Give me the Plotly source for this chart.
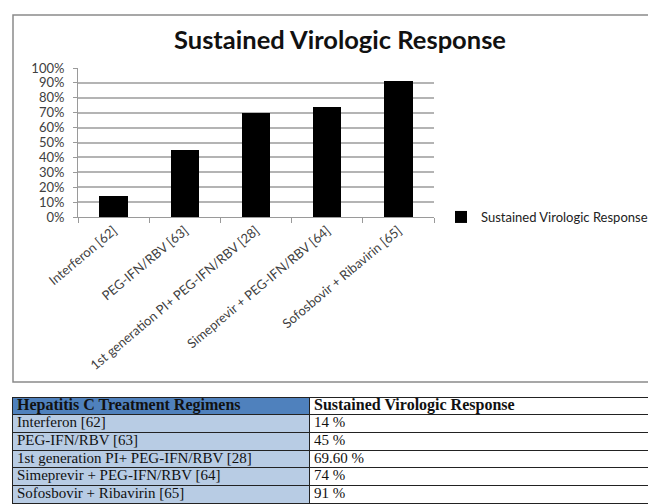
import plotly.graph_objects as go

categories = ["Interferon [62]", "PEG-IFN/RBV [63]", "1st generation PI+ PEG-IFN/RBV [28]",
              "Simeprevir + PEG-IFN/RBV [64]", "Sofosbovir + Ribavirin [65]"]
svr_values = [14, 45, 69.6, 74, 91]
series_name = "Sustained Virologic Response"
chart_title = "Sustained Virologic Response"
table_header = ["Hepatitis C Treatment Regimens", "Sustained Virologic Response"]
table_svr_labels = ["14 %", "45 %", "69.60 %", "74 %", "91 %"]
y_tick_vals = [0, 10, 20, 30, 40, 50, 60, 70, 80, 90, 100]
y_tick_text = [f"{v}%" for v in y_tick_vals]

# page body has an 8px default margin; size the figure to fit the window
OFF = 8
W, H = 656 - OFF, 504 - OFF
def px(x): return (x - OFF) / W
def py(y): return 1 - (y - OFF) / H

# table layout (column widths in px)
col_w = [297, 360]
cell_pad = 5
table_rows = ["hdr"] + [f"r{i}" for i in range(len(categories))]
col1_fill = ["#4f81bd"] + ["#b8cce4"] * len(categories)
col2_fill = ["white"] * (len(categories) + 1)
hdr_style = "<b><span style='font-size:16px'>{}</span></b>"
col1_text = [hdr_style.format(table_header[0])] + categories
col2_text = [hdr_style.format(table_header[1])] + table_svr_labels

fig = go.Figure()
fig.add_trace(go.Bar(
    x=categories, y=svr_values, name=series_name,
    marker=dict(color="black", line=dict(width=0)),
    showlegend=True, xaxis="x", yaxis="y",
))

# table drawn as stacked horizontal bars + text on its own axes
fig.add_trace(go.Bar(
    y=table_rows, x=[col_w[0]] * len(table_rows), orientation="h",
    marker=dict(color=col1_fill, line=dict(color="#222222", width=1)),
    width=1, showlegend=False, hoverinfo="skip", xaxis="x2", yaxis="y2",
))
fig.add_trace(go.Bar(
    y=table_rows, x=[col_w[1]] * len(table_rows), orientation="h",
    marker=dict(color=col2_fill, line=dict(color="#222222", width=1)),
    width=1, showlegend=False, hoverinfo="skip", xaxis="x2", yaxis="y2",
))
fig.add_trace(go.Scatter(
    y=table_rows, x=[cell_pad] * len(table_rows), mode="text", text=col1_text,
    textposition="middle right", showlegend=False, hoverinfo="skip",
    textfont=dict(family="Liberation Serif", size=15, color="#111111"),
    xaxis="x2", yaxis="y2", cliponaxis=False,
))
fig.add_trace(go.Scatter(
    y=table_rows, x=[col_w[0] + cell_pad] * len(table_rows), mode="text", text=col2_text,
    textposition="middle right", showlegend=False, hoverinfo="skip",
    textfont=dict(family="Liberation Serif", size=15, color="#111111"),
    xaxis="x2", yaxis="y2", cliponaxis=False,
))

fig.update_layout(
    width=W, height=H,
    margin=dict(l=0, r=0, t=0, b=0, autoexpand=False),
    paper_bgcolor="white", plot_bgcolor="white",
    font=dict(family="Lato", color="#404040", size=13),
    title=dict(text=f"<b>{chart_title}</b>", x=px(340), xanchor="center",
               y=py(40), yanchor="middle",
               font=dict(family="Lato", size=25.5, color="#111111")),
    bargap=0.6, barmode="stack",
    xaxis=dict(domain=[px(78), px(434)], tickangle=-40, showgrid=False,
               showline=True, linecolor="#9a9a9a", linewidth=1,
               ticks="outside", tickson="boundaries", ticklen=5, tickcolor="#9a9a9a",
               automargin=False,
               tickfont=dict(family="Lato", size=13, color="#404040")),
    yaxis=dict(domain=[py(217), py(68)], range=[0, 100], tickvals=y_tick_vals,
               ticktext=y_tick_text, showgrid=True, gridcolor="#b4b4b4", gridwidth=1.5,
               showline=True, linecolor="#9a9a9a", linewidth=1,
               ticks="outside", ticklen=4, tickcolor="#9a9a9a",
               zeroline=False, automargin=False, ticklabelstandoff=6,
               tickfont=dict(family="Lato", size=13, color="#404040")),
    xaxis2=dict(domain=[px(12), 1.0], range=[0, 656 - 12], visible=False,
                fixedrange=True),
    yaxis2=dict(domain=[0, py(397)], range=[5.55, -0.5], visible=False,
                fixedrange=True, type="category"),
    legend=dict(x=px(441), y=py(217), xanchor="left", yanchor="middle",
                font=dict(family="Lato", size=13, color="#222222"),
                itemwidth=30, bgcolor="rgba(0,0,0,0)"),
    shapes=[
        dict(type="rect", xref="paper", yref="paper", x0=px(13), x1=1.02, y0=py(382), y1=py(15),
             line=dict(color="#8a8a8a", width=1.5)),
    ],
)

fig.write_html("out.html")
